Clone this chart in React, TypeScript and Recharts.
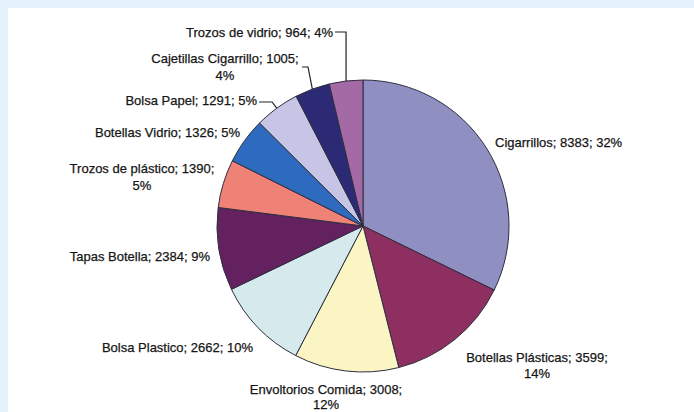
import React from "react";
import { PieChart, Pie, Cell } from "recharts";

const categories = [
  "Cigarrillos",
  "Botellas Plásticas",
  "Envoltorios Comida",
  "Bolsa Plastico",
  "Tapas Botella",
  "Trozos de plástico",
  "Botellas Vidrio",
  "Bolsa Papel",
  "Cajetillas Cigarrillo",
  "Trozos de vidrio",
];
const counts = [8383, 3599, 3008, 2662, 2384, 1390, 1326, 1291, 1005, 964];
const colors = [
  "#8f8fc2",
  "#8e2f62",
  "#faf5c3",
  "#d6eaed",
  "#63215f",
  "#ef8277",
  "#2e6abf",
  "#c6c5e6",
  "#2c2a74",
  "#a36aa6",
];

const data = categories.map((name, i) => ({ name, value: counts[i] }));

// label placement relative to the pie centre (style/layout only)
type Layout = {
  dx: number;
  dy: number;
  anchor: "start" | "middle" | "end";
  wrap: boolean;
  lh?: number;
  leader?: { sx: number; y: number; ex: number | null };
};
const labelLayout: Layout[] = [
  { dx: 132, dy: -84, anchor: "start", wrap: false },
  { dx: 174, dy: 131, anchor: "middle", wrap: true, lh: 16 },
  { dx: -37, dy: 163, anchor: "middle", wrap: true, lh: 15.5 },
  { dx: -110, dy: 121, anchor: "end", wrap: false },
  { dx: -153, dy: 30, anchor: "end", wrap: false },
  { dx: -221, dy: -58, anchor: "middle", wrap: true, lh: 17 },
  { dx: -123, dy: -94, anchor: "end", wrap: false },
  { dx: -106, dy: -126, anchor: "end", wrap: false, leader: { sx: -104, y: -124, ex: -91 } },
  { dx: -138, dy: -168, anchor: "middle", wrap: true, lh: 17, leader: { sx: -61, y: -159, ex: -55 } },
  { dx: -30, dy: -194, anchor: "end", wrap: false, leader: { sx: -28, y: -194, ex: null } },
];

const RAD = Math.PI / 180;

const renderLabel = (props: any) => {
  const { cx, cy, midAngle, outerRadius, percent, index } = props;
  const L = labelLayout[index];
  const d = data[index];
  const pct = Math.round(percent * 100);
  const x = cx + L.dx;
  const y = cy + L.dy;
  const lines = L.wrap
    ? [`${d.name}; ${d.value};`, `${pct}%`]
    : [`${d.name}; ${d.value}; ${pct}%`];
  let leader = null;
  if (L.leader) {
    const ax = cx + outerRadius * Math.cos(-midAngle * RAD);
    const ay = cy + outerRadius * Math.sin(-midAngle * RAD);
    const ex = L.leader.ex === null ? ax : cx + L.leader.ex;
    const ly = cy + L.leader.y;
    leader = (
      <path
        d={`M${cx + L.leader.sx},${ly} H${ex} L${ax},${ay}`}
        stroke="#222"
        strokeWidth={1.2}
        fill="none"
      />
    );
  }
  return (
    <g key={`lbl-${index}`}>
      {leader}
      {lines.map((t, i) => (
        <text
          key={i}
          x={x}
          y={y + i * (L.lh || 16)}
          textAnchor={L.anchor}
          dominantBaseline="central"
          fontSize={13}
          fontFamily="'Liberation Sans', Arial, sans-serif"
          fill="#161616"
          stroke="#161616"
          strokeWidth={0.25}
        >
          {t}
        </text>
      ))}
    </g>
  );
};

export default function App() {
  return (
    <div
      style={{
        position: "absolute",
        left: 0,
        top: 0,
        width: 694,
        height: 412,
        background: "#e5f4fc",
        overflow: "hidden",
      }}
    >
      <div
        style={{
          position: "absolute",
          left: 8,
          top: 8,
          right: 0,
          bottom: 0,
          background: "#ffffff",
        }}
      />
      <div style={{ position: "absolute", left: 0, top: 0 }}>
        <PieChart
          width={694}
          height={412}
          margin={{ top: 0, right: 0, bottom: 0, left: 0 }}
        >
          <Pie
            data={data}
            dataKey="value"
            nameKey="name"
            cx={363}
            cy={226}
            outerRadius={146}
            startAngle={90}
            endAngle={-270}
            stroke="#2e2e3e"
            strokeWidth={1}
            label={renderLabel}
            labelLine={false}
            isAnimationActive={false}
          >
            {data.map((_, i) => (
              <Cell key={i} fill={colors[i]} />
            ))}
          </Pie>
        </PieChart>
      </div>
    </div>
  );
}
